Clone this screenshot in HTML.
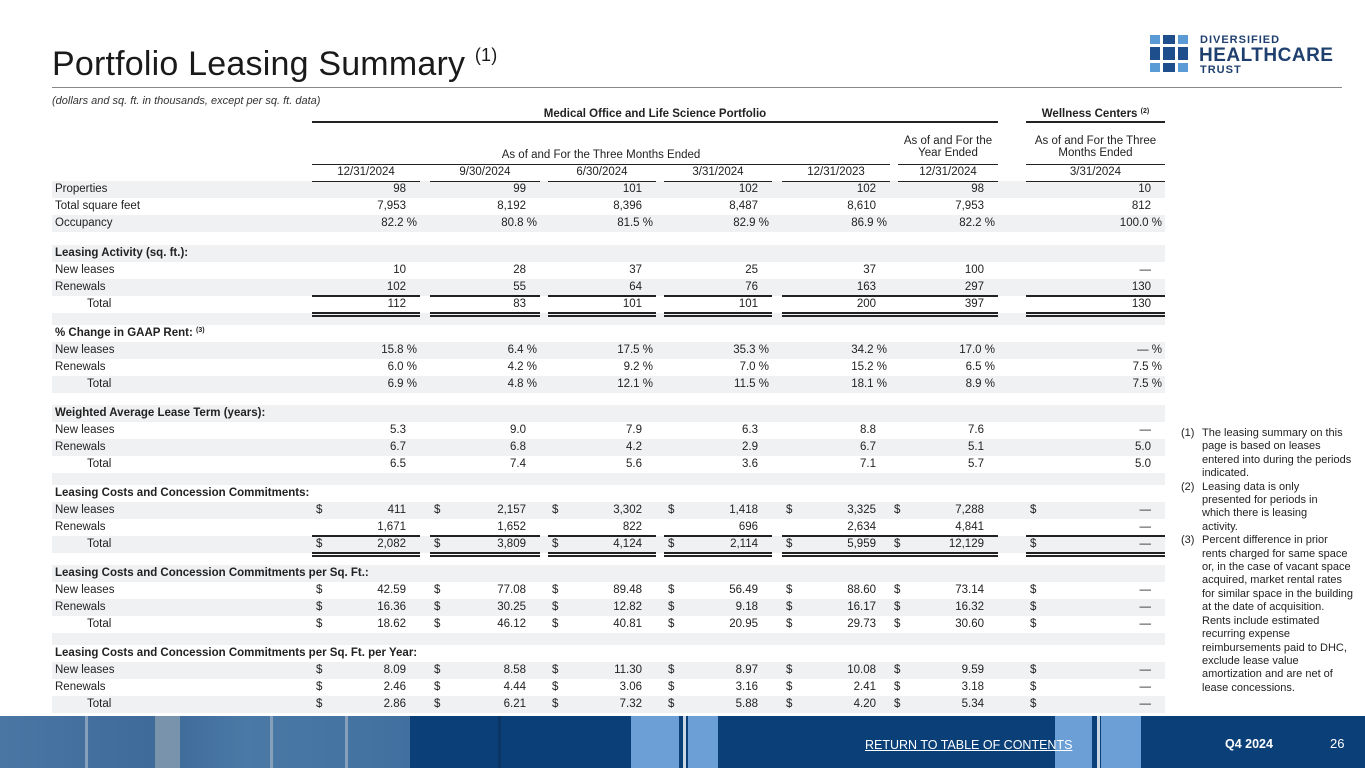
<!DOCTYPE html>
<html><head><meta charset="utf-8">
<style>
body{margin:0;width:1365px;height:768px;overflow:hidden;background:#fff;font-family:"Liberation Sans",sans-serif;color:#222;position:relative}
.a{position:absolute;white-space:nowrap}
.t{font-size:11.5px;line-height:17px}
.b{font-weight:bold}
.ln{position:absolute;background:#222;z-index:3}
sup.s{font-size:7px;line-height:0;vertical-align:4px}
</style></head><body>
<div class="a" style="left:52px;top:44px;font-size:34px;line-height:40px;color:#1a1a1a;letter-spacing:0.2px">Portfolio Leasing Summary <sup style="font-size:18px;line-height:0;vertical-align:14px">(1)</sup></div>
<div class="ln" style="left:52px;top:87px;width:1290px;height:1px;background:#888"></div>
<div class="a" style="left:52px;top:95px;font-size:11px;font-style:italic;color:#333">(dollars and sq. ft. in thousands, except per sq. ft. data)</div>

<div>
<svg class="a" style="left:1150px;top:35px" width="40" height="40">
<rect x="0" y="0" width="10" height="9" fill="#5b9bd5"/><rect x="13" y="0" width="12" height="9" fill="#1f4e8c"/><rect x="28" y="0" width="10" height="9" fill="#5b9bd5"/>
<rect x="0" y="12" width="10" height="13" fill="#1f4e8c"/><rect x="13" y="12" width="12" height="13" fill="#1f4e8c"/><rect x="28" y="12" width="10" height="13" fill="#1f4e8c"/>
<rect x="0" y="28" width="10" height="9" fill="#5b9bd5"/><rect x="13" y="28" width="12" height="9" fill="#1f4e8c"/><rect x="28" y="28" width="10" height="9" fill="#5b9bd5"/>
</svg>
<div class="a b" style="left:1200px;top:34px;font-size:11px;color:#1f3f6e;letter-spacing:1px">DIVERSIFIED</div>
<div class="a b" style="left:1199px;top:45px;font-size:19px;color:#1f3f6e;letter-spacing:0.5px">HEALTHCARE</div>
<div class="a b" style="left:1200px;top:64px;font-size:11px;color:#1f3f6e;letter-spacing:1px">TRUST</div>
</div>

<div id="tbl"></div>

<div class="a" style="left:1181px;top:427px;font-size:11px;line-height:13.4px;color:#222;white-space:normal;width:180px">
<div style="display:flex"><span style="width:21px;flex:none">(1)</span><span style="width:156px">The leasing summary on this page is based on leases entered into during the periods indicated.</span></div>
<div style="display:flex"><span style="width:21px;flex:none">(2)</span><span style="width:140px">Leasing data is only presented for periods in which there is leasing activity.</span></div>
<div style="display:flex"><span style="width:21px;flex:none">(3)</span><span style="width:153px">Percent difference in prior rents charged for same space or, in the case of vacant space acquired, market rental rates for similar space in the building at the date of acquisition. Rents include estimated recurring expense reimbursements paid to DHC, exclude lease value amortization and are net of lease concessions.</span></div>
</div>

<div class="a" style="left:0;top:716px;width:1365px;height:52px;background:#0b3f78;overflow:hidden">
<div class="a" style="left:0;top:0;width:410px;height:52px;background:linear-gradient(90deg,#4a76a4,#3d6a99 40%,#4b79a6 60%,#41709f)"></div>
<div class="a" style="left:155px;top:0;width:25px;height:52px;background:#7a93ad"></div>
<div class="a" style="left:85px;top:0;width:3px;height:52px;background:#86a0bb"></div>
<div class="a" style="left:270px;top:0;width:3px;height:52px;background:#86a0bb"></div>
<div class="a" style="left:345px;top:0;width:3px;height:52px;background:#86a0bb"></div>
<div class="a" style="left:498px;top:0;width:3px;height:52px;background:#0a3566"></div>
<div class="a" style="left:631px;top:0;width:48px;height:52px;background:#6b9fd6"></div>
<div class="a" style="left:683px;top:0;width:3px;height:52px;background:#c9d6e4"></div>
<div class="a" style="left:688px;top:0;width:30px;height:52px;background:#6b9fd6"></div>
<div class="a" style="left:1055px;top:0;width:37px;height:52px;background:#6b9fd6"></div>
<div class="a" style="left:1097px;top:0;width:3px;height:52px;background:#c9d6e4"></div>
<div class="a" style="left:1101px;top:0;width:40px;height:52px;background:#6b9fd6"></div>
<div class="a" style="left:865px;top:22px;font-size:12.5px;color:#fff;text-decoration:underline">RETURN TO TABLE OF CONTENTS</div>
<div class="a b" style="left:1225px;top:21px;font-size:12.5px;color:#fff">Q4 2024</div>
<div class="a" style="left:1330px;top:20px;font-size:13px;color:#fff">26</div>
</div>

<script>
// data
const periods=["12/31/2024","9/30/2024","6/30/2024","3/31/2024","12/31/2023","12/31/2024","3/31/2024"];
const properties=["98","99","101","102","102","98","10"];
const totalSqFt=["7,953","8,192","8,396","8,487","8,610","7,953","812"];
const occupancy=["82.2","80.8","81.5","82.9","86.9","82.2","100.0"];
const laNew=["10","28","37","25","37","100","—"];
const laRen=["102","55","64","76","163","297","130"];
const laTot=["112","83","101","101","200","397","130"];
const gNew=["15.8","6.4","17.5","35.3","34.2","17.0","—"];
const gRen=["6.0","4.2","9.2","7.0","15.2","6.5","7.5"];
const gTot=["6.9","4.8","12.1","11.5","18.1","8.9","7.5"];
const wNew=["5.3","9.0","7.9","6.3","8.8","7.6","—"];
const wRen=["6.7","6.8","4.2","2.9","6.7","5.1","5.0"];
const wTot=["6.5","7.4","5.6","3.6","7.1","5.7","5.0"];
const cNew=["411","2,157","3,302","1,418","3,325","7,288","—"];
const cRen=["1,671","1,652","822","696","2,634","4,841","—"];
const cTot=["2,082","3,809","4,124","2,114","5,959","12,129","—"];
const pNew=["42.59","77.08","89.48","56.49","88.60","73.14","—"];
const pRen=["16.36","30.25","12.82","9.18","16.17","16.32","—"];
const pTot=["18.62","46.12","40.81","20.95","29.73","30.60","—"];
const yNew=["8.09","8.58","11.30","8.97","10.08","9.59","—"];
const yRen=["2.46","4.44","3.06","3.16","2.41","3.18","—"];
const yTot=["2.86","6.21","7.32","5.88","4.20","5.34","—"];

const T=document.getElementById('tbl');
const colL=[312,430,548,664,782,890,1026], colR=[420,540,656,772,890,998,1165];
function el(html,css,name){const d=document.createElement('div');d.className='a t';d.style.cssText=css+';z-index:2';d.innerHTML=html;


T.appendChild(d);return d;}
function line(x,y,w,h,name){const d=document.createElement('div');d.className='ln';d.style.cssText=`left:${x}px;top:${y}px;width:${w}px;height:${h}px`;


T.appendChild(d);}
// headers
el('Medical Office and Life Science Portfolio',`left:312px;top:106px;width:686px;text-align:center;font-weight:bold`,'medical-portfolio-header');
line(312,121,686,2,'medical-header-rule');
el('Wellness Centers <sup class="s">(2)</sup>',`left:1026px;top:106px;width:139px;text-align:center;font-weight:bold`,'wellness-header');
line(1026,121,139,2,'wellness-header-rule');
el('As of and For the Three Months Ended',`left:312px;top:147px;width:578px;text-align:center`,'three-months-header');
el('As of and For the<br>Year Ended',`left:898px;top:135px;width:100px;text-align:center;line-height:12px`,'year-ended-header');
el('As of and For the Three<br>Months Ended',`left:1026px;top:135px;width:139px;text-align:center;line-height:12px`,'wellness-period-header');
line(312,164,578,1,'three-months-rule');line(898,164,100,1,'year-rule');line(1026,164,139,1,'wellness-period-rule');
periods.forEach((p,i)=>{const l=i==5?898:colL[i];el(p,`left:${l}px;top:164px;width:${colR[i]-l}px;text-align:center`,'period-header-'+i);line(l,181,colR[i]-l,1,'period-rule-'+i);});
// rows
const rows=[
['Properties',properties,''],['Total square feet',totalSqFt,''],['Occupancy',occupancy,'%'],null,
['Leasing Activity (sq. ft.):'],['New leases',laNew,''],['Renewals',laRen,'','s'],['Total',laTot,'','d'],null,
['% Change in GAAP Rent: <sup class="s">(3)</sup>'],['New leases',gNew,'%'],['Renewals',gRen,'%'],['Total',gTot,'%'],null,
['Weighted Average Lease Term (years):'],['New leases',wNew,''],['Renewals',wRen,''],['Total',wTot,''],null,
['Leasing Costs and Concession Commitments:'],['New leases',cNew,'$'],['Renewals',cRen,'','s'],['Total',cTot,'$','d'],null,
['Leasing Costs and Concession Commitments per Sq. Ft.:'],['New leases',pNew,'$'],['Renewals',pRen,'$'],['Total',pTot,'$'],null,
['Leasing Costs and Concession Commitments per Sq. Ft. per Year:'],['New leases',yNew,'$'],['Renewals',yRen,'$'],['Total',yTot,'$']];
let y=181;
rows.forEach((r,k)=>{
 const h=r?17:(k==3?13:12);
 if(k%2==0){const s=document.createElement('div');s.className='a';s.style.cssText=`left:52px;top:${y}px;width:1113px;height:${h}px;background:#f0f1f3;z-index:1`;
  
  
  T.appendChild(s);}
 if(r){
  const hdr=!r[1];
  const ind=r[0]=='Total'?87:55;
  el(r[0],`left:${ind}px;top:${y}px;${hdr?'font-weight:bold':''}`,hdr?'section-header':'row-label');
  if(!hdr){r[1].forEach((v,i)=>{
    el(v+(r[2]=='%'?'&nbsp;%':''),`left:${colL[i]}px;top:${y}px;width:${colR[i]-colL[i]-(r[2]=='%'?3:14)}px;text-align:right`,'cell-value');
    if(r[2]=='$')el('$',`left:${colL[i]+4}px;top:${y}px`,'dollar-sign');
    if(r[3]=='s')line(colL[i],y+16,colR[i]-colL[i],1.5,'subtotal-rule');
    if(r[3]=='d'){line(colL[i],y+16,colR[i]-colL[i],1.5,'total-rule');line(colL[i],y+19,colR[i]-colL[i],1.5,'total-rule');}
  });}
 }
 y+=h;
});
</script>
</body></html>
